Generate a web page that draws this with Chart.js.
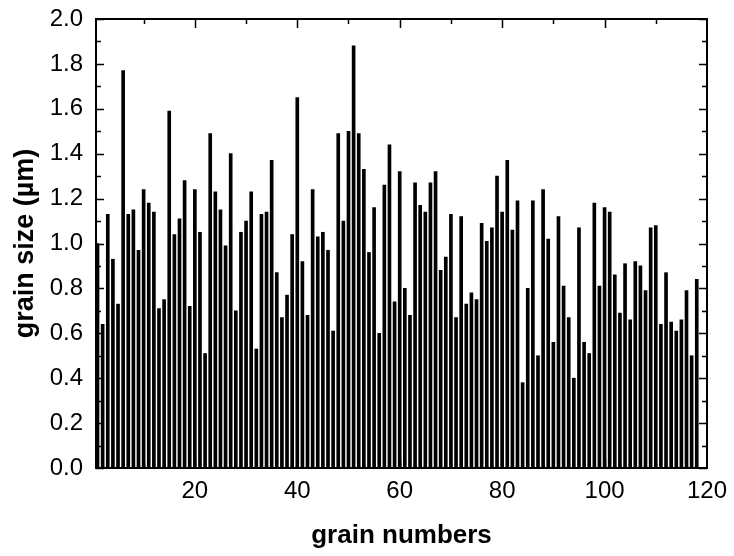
<!DOCTYPE html>
<html>
<head>
<meta charset="utf-8">
<script src="https://cdn.jsdelivr.net/npm/chart.js@4/dist/chart.umd.min.js"></script>
<style>
html,body{margin:0;padding:0;background:#fff;}
#wrap{width:734px;height:556px;}
</style>
</head>
<body>
<div id="wrap"><canvas id="c" width="734" height="556"></canvas></div>
<script>
const grainSize = [
1.00, 0.64, 1.13, 0.93, 0.73, 1.77, 1.13, 1.15, 0.97, 1.24,
1.18, 1.14, 0.71, 0.75, 1.59, 1.04, 1.11, 1.28, 0.72, 1.24,
1.05, 0.51, 1.49, 1.23, 1.15, 0.99, 1.40, 0.70, 1.05, 1.10,
1.23, 0.53, 1.13, 1.14, 1.37, 0.87, 0.67, 0.77, 1.04, 1.65,
0.92, 0.68, 1.24, 1.03, 1.05, 0.97, 0.61, 1.49, 1.10, 1.50,
1.88, 1.49, 1.33, 0.96, 1.16, 0.60, 1.26, 1.44, 0.74, 1.32,
0.80, 0.68, 1.27, 1.17, 1.14, 1.27, 1.32, 0.88, 0.94, 1.13,
0.67, 1.12, 0.73, 0.78, 0.75, 1.09, 1.01, 1.07, 1.30, 1.14,
1.37, 1.06, 1.19, 0.38, 0.80, 1.19, 0.50, 1.24, 1.02, 0.56,
1.12, 0.81, 0.67, 0.40, 1.07, 0.56, 0.51, 1.18, 0.81, 1.16,
1.14, 0.86, 0.69, 0.91, 0.66, 0.92, 0.90, 0.79, 1.07, 1.08,
0.64, 0.87, 0.65, 0.61, 0.66, 0.79, 0.50, 0.84
];
const grainNumbers = grainSize.map((_, i) => i + 1);
const xTickLabels = [20, 40, 60, 80, 100, 120];
const yTickValues = [0.0, 0.2, 0.4, 0.6, 0.8, 1.0, 1.2, 1.4, 1.6, 1.8, 2.0];

const FONT = "'Liberation Sans', Arial, sans-serif";

const framePlugin = {
  id: 'frame',
  afterDatasetsDraw(chart) {
    const {ctx, chartArea: a, scales: {x, y}} = chart;
    ctx.save();
    ctx.strokeStyle = '#000';
    ctx.lineWidth = 1.5;
    for (let v = 0; v <= 20; v++) {
      const py = Math.round(y.getPixelForValue(v / 10)) + 0.5;
      const len = (v % 2 === 0) ? 8 : 5;
      ctx.beginPath();
      ctx.moveTo(a.left, py); ctx.lineTo(a.left + len, py);
      ctx.moveTo(a.right, py); ctx.lineTo(a.right - len, py);
      ctx.stroke();
    }
    for (let v = 10; v <= 120; v += 10) {
      const px = Math.round(x.getPixelForValue(v)) + 0.5;
      if (px > a.right - 1) continue;
      const len = (v % 20 === 0) ? 9 : 5;
      ctx.beginPath();
      ctx.moveTo(px, a.top); ctx.lineTo(px, a.top + len);
      ctx.moveTo(px, a.bottom); ctx.lineTo(px, a.bottom - len);
      ctx.stroke();
    }
    ctx.lineWidth = 2;
    ctx.strokeRect(a.left, a.top, a.right - a.left, a.bottom - a.top);
    ctx.restore();
  }
};

new Chart(document.getElementById('c'), {
  type: 'bar',
  data: {
    datasets: [{
      data: grainNumbers.map((n, i) => ({x: n, y: grainSize[i]})),
      backgroundColor: '#000',
      borderWidth: 0,
      barThickness: 3
    }]
  },
  options: {
    responsive: false,
    animation: false,
    events: [],
    layout: {padding: {top: 19, right: 27, left: 0, bottom: 0}},
    plugins: {legend: {display: false}, tooltip: {enabled: false}},
    scales: {
      x: {
        type: 'linear',
        min: 0.7,
        max: 120,
        offset: false,
        afterFit(s) { s.height = 88; s.paddingLeft = 0; s.paddingRight = 0; },
        afterBuildTicks(s) { s.ticks = xTickLabels.map(v => ({value: v})); },
        grid: {display: false, drawTicks: false},
        border: {display: false},
        ticks: {
          color: '#000', padding: 9, maxRotation: 0, autoSkip: false,
          font: {family: FONT, size: 24},
          callback: v => String(v)
        },
        title: {
          display: true, text: 'grain numbers', color: '#000',
          font: {family: FONT, size: 26, weight: 'bold'},
          padding: {top: 0, bottom: 5}
        }
      },
      y: {
        min: 0, max: 2.0,
        afterFit(s) { s.width = 96; s.paddingTop = 0; s.paddingBottom = 0; },
        afterBuildTicks(s) { s.ticks = yTickValues.map(v => ({value: v})); },
        grid: {display: false, drawTicks: false},
        border: {display: false},
        ticks: {
          color: '#000', padding: 13,
          font: {family: FONT, size: 24},
          callback: v => Number(v).toFixed(1)
        },
        title: {
          display: true, text: 'grain size (µm)', color: '#000',
          font: {family: FONT, size: 27, weight: 'bold'},
          padding: {top: 9, bottom: 0}
        }
      }
    }
  },
  plugins: [framePlugin]
});
</script>
</body>
</html>
